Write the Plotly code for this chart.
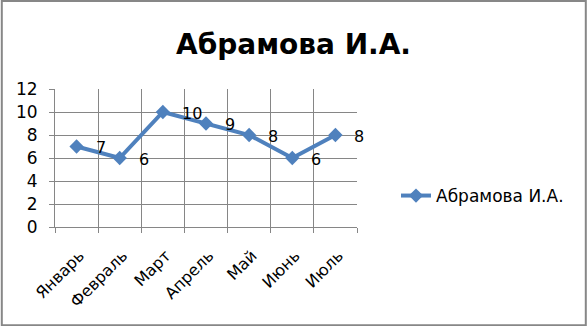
import plotly.graph_objects as go

months = ["Январь", "Февраль", "Март", "Апрель", "Май", "Июнь", "Июль"]
values = [7, 6, 10, 9, 8, 6, 8]
series_name = "Абрамова И.А."
title_text = "Абрамова И.А."

W, H = 587, 326
L, R, T, B = 55, 230, 89, 99
pw = W - L - R
ph = H - T - B

grid = "#868686"
blue = "#4F81BD"
FONT = "DejaVu Sans, Verdana, sans-serif"

fig = go.Figure()
fig.add_trace(go.Scatter(
    x=months, y=values, name=series_name,
    mode="lines+markers",
    line=dict(color=blue, width=4),
    marker=dict(symbol="diamond", size=11, color=blue),
    showlegend=True,
    cliponaxis=False,
))

# data labels to the right of each point
for m, v in zip(months, values):
    fig.add_annotation(x=m, y=v, text=str(v), showarrow=False,
                       xanchor="left", yanchor="middle", xshift=17, yshift=-1,
                       font=dict(family=FONT, size=16, color="#000000"))

fig.update_layout(
    width=W, height=H,
    margin=dict(l=L, r=R, t=T, b=B, autoexpand=False),
    paper_bgcolor="white", plot_bgcolor="white",
    title=dict(text="<b>" + title_text + "</b>", x=0.5, xref="container",
               xanchor="center", y=1 - 44 / H, yanchor="middle",
               font=dict(family=FONT, size=28, color="#000000")),
    legend=dict(x=(396 - L) / pw, y=(H - B - 196) / ph, xanchor="left", yanchor="middle",
                font=dict(family=FONT, size=17, color="#000000"),
                bgcolor="rgba(0,0,0,0)", itemwidth=30),
    font=dict(family=FONT, color="#000000"),
)

fig.update_xaxes(
    type="category", tickson="boundaries", showgrid=True, gridcolor=grid, gridwidth=1,
    ticks="outside", ticklen=5, tickcolor=grid, showline=True, linecolor=grid, linewidth=1,
    tickangle=-45, tickfont=dict(family=FONT, size=16),
    ticklabelstandoff=12, ticklabelshift=3, automargin=False,
    range=[-0.5, 6.5], zeroline=False,
)
fig.update_yaxes(
    range=[0, 12], dtick=2, tick0=0, showgrid=True, gridcolor=grid, gridwidth=1,
    ticks="outside", ticklen=5, tickcolor=grid, showline=True, linecolor=grid, linewidth=1,
    tickfont=dict(family=FONT, size=17), zeroline=False, ticklabelstandoff=8,
    automargin=False,
)

# outer chart border
fig.add_shape(type="rect", xref="paper", yref="paper",
              x0=(1.8 - L) / pw, x1=(585.8 - L) / pw,
              y0=(H - B - 325.2) / ph, y1=(H - B - 0.9) / ph,
              line=dict(color="#878787", width=2), layer="below")

fig.write_html("out.html")
